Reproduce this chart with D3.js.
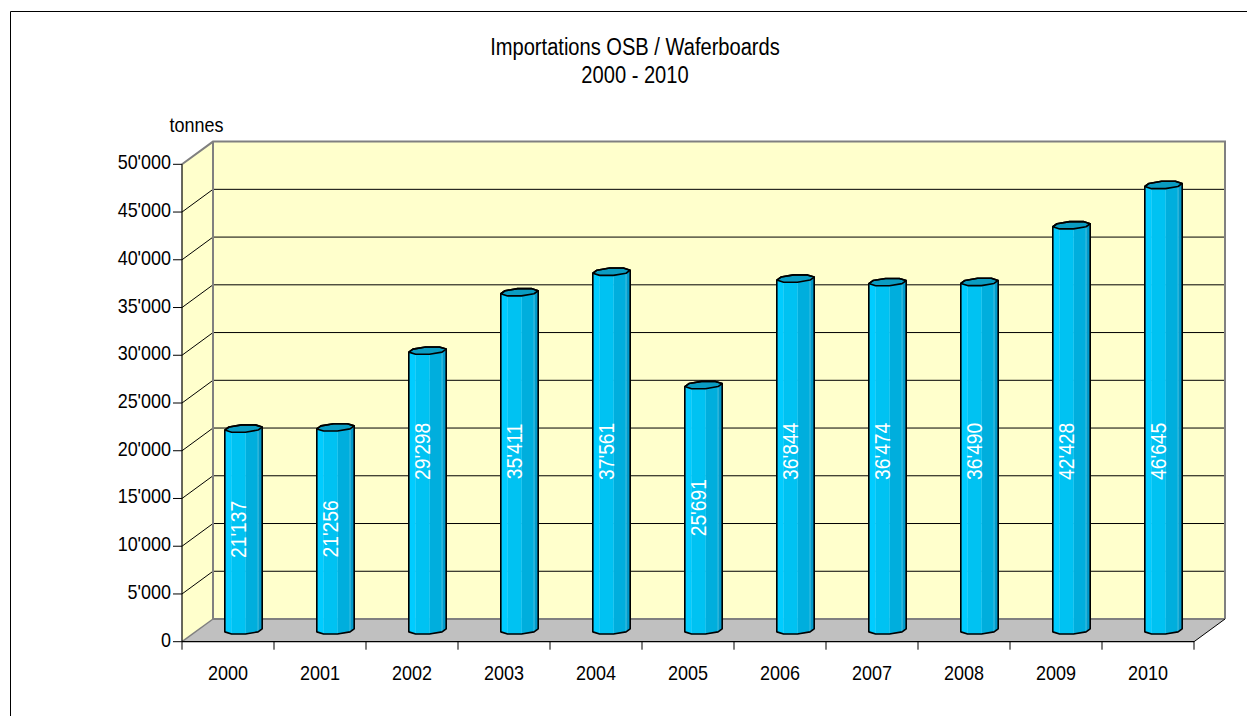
<!DOCTYPE html>
<html><head><meta charset="utf-8">
<script src="https://cdn.jsdelivr.net/npm/d3@7"></script>
<style>html,body{margin:0;padding:0;background:#fff;overflow:hidden}</style>
</head><body>
<svg id="c" width="1247" height="716"></svg>
<script>
const years = ["2000","2001","2002","2003","2004","2005","2006","2007","2008","2009","2010"];
const imports = [21137,21256,29298,35411,37561,25691,36844,36474,36490,42428,46645];
const yTicks = [0,5000,10000,15000,20000,25000,30000,35000,40000,45000,50000];
const titleLines = ["Importations OSB / Waferboards","2000 - 2010"];
const yUnit = "tonnes";

const svg = d3.select("#c");
const FONT = "Liberation Sans, Arial, sans-serif";
const NARROW = 0.855;
const fmt = d3.formatLocale({decimal:".",thousands:"'",grouping:[3],currency:["",""]}).format(",");

// frame
svg.append("path").attr("d","M10.5,716 V11.5 H1247").attr("fill","none").attr("stroke","#000").attr("stroke-width",1);

const x0 = 182, x1 = 1194;
const DX = 31, DY = -22.7;
const x = d3.scaleBand().domain(years).range([x0,x1]).padding(0);
const y = d3.scaleLinear().domain([0,50000]).range([641.7,164.3]);

function narrowText(sel){
  sel.each(function(){
    const len = this.getComputedTextLength();
    d3.select(this).attr("textLength", len*NARROW).attr("lengthAdjust","spacingAndGlyphs");
  });
}

// side wall
svg.append("path")
  .attr("d",`M${x0},${y(50000)} L${x0+DX},${y(50000)+DY} L${x0+DX},${y(0)+DY} L${x0},${y(0)} Z`)
  .attr("fill","#FFFFCC");
// back wall
svg.append("rect").attr("x",x0+DX).attr("y",y(50000)+DY).attr("width",x1-x0).attr("height",y(0)-y(50000))
  .attr("fill","#FFFFCC");
// floor
svg.append("path")
  .attr("d",`M${x0},${y(0)} L${x1},${y(0)} L${x1+DX},${y(0)+DY} L${x0+DX},${y(0)+DY} Z`)
  .attr("fill","#C0C0C0");

// gridlines
const grid = svg.append("g");
yTicks.filter(v=>v>0 && v<50000).forEach(v=>{
  grid.append("path")
    .attr("d",`M${x0},${y(v)} L${x0+DX},${y(v)+DY} L${x1+DX},${y(v)+DY}`)
    .attr("fill","none").attr("stroke","#000").attr("stroke-width",1);
});
// wall outlines (grey)
svg.append("path")
  .attr("d",`M${x0},${y(50000)} L${x0+DX},${y(50000)+DY} L${x1+DX},${y(50000)+DY} L${x1+DX},${y(0)+DY}`)
  .attr("fill","none").attr("stroke","#808080").attr("stroke-width",2);
svg.append("path")
  .attr("d",`M${x0+DX},${y(50000)+DY} L${x0+DX},${y(0)+DY} L${x1+DX},${y(0)+DY}`)
  .attr("fill","none").attr("stroke","#808080").attr("stroke-width",2);
svg.append("path")
  .attr("d",`M${x0},${y(0)} L${x0+DX},${y(0)+DY}`)
  .attr("fill","none").attr("stroke","#808080").attr("stroke-width",1.5);
svg.append("path")
  .attr("d",`M${x1},${y(0)} L${x1+DX},${y(0)+DY}`)
  .attr("fill","none").attr("stroke","#000").attr("stroke-width",1);

// axes
svg.append("line").attr("x1",x0).attr("x2",x0).attr("y1",y(50000)).attr("y2",y(0)).attr("stroke","#000").attr("stroke-width",1.2);
svg.append("line").attr("x1",x0).attr("x2",x1).attr("y1",y(0)).attr("y2",y(0)).attr("stroke","#000").attr("stroke-width",1.2);
const yAx = svg.append("g");
yTicks.forEach(v=>{
  yAx.append("line").attr("x1",x0-9).attr("x2",x0).attr("y1",y(v)).attr("y2",y(v)).attr("stroke","#000");
  yAx.append("text").attr("x",171).attr("y",y(v)+5).attr("text-anchor","end")
    .attr("font-family",FONT).attr("font-size",21).attr("fill","#000").text(fmt(v)).call(narrowText);
});
const xAx = svg.append("g");
years.concat(["_end"]).forEach((yr,i)=>{
  const xx = x0 + i*x.bandwidth();
  xAx.append("line").attr("x1",xx).attr("x2",xx).attr("y1",y(0)).attr("y2",y(0)+8).attr("stroke","#000");
});
years.forEach(yr=>{
  xAx.append("text").attr("x",x(yr)+x.bandwidth()/2).attr("y",680).attr("text-anchor","middle")
    .attr("font-family",FONT).attr("font-size",21).attr("fill","#000").text(yr).call(narrowText);
});

// title + unit
titleLines.forEach((t,i)=>{
  svg.append("text").attr("x",635).attr("y",55+i*28.3).attr("text-anchor","middle")
    .attr("font-family",FONT).attr("font-size",23.5).attr("fill","#000").text(t).call(narrowText);
});
svg.append("text").attr("x",196.5).attr("y",132).attr("text-anchor","middle")
  .attr("font-family",FONT).attr("font-size",21).attr("fill","#000").text(yUnit).call(narrowText);

// bars (octagonal prisms)
const R = 18, kx = 0.30, ky = 0.22;
const angles = d3.range(8).map(k=>Math.PI/8 + k*Math.PI/4);
const faceColor = {225:"#00CCFF",270:"#00C2F2",315:"#00AEDD",0:"#009ACB"};
const bars = svg.append("g");
years.forEach((yr,i)=>{
  const v = imports[i];
  const cx = x(yr) + x.bandwidth()/2 + DX/2;
  const yb = y(0) + DY/2;
  const yt = y(v) + DY/2;
  const P = (th, yy)=>[cx + R*Math.cos(th) + kx*R*Math.sin(th), yy - ky*R*Math.sin(th)];
  const g = bars.append("g");
  // side faces
  for(let k=0;k<8;k++){
    const a = angles[k], b = angles[(k+1)%8];
    let nDeg = Math.round(((a+b)/2)*180/Math.PI) % 360;
    if(k===7) nDeg = 0;
    const nrad = nDeg*Math.PI/180;
    if(!(kx*Math.cos(nrad) - Math.sin(nrad) > 0)) continue;
    const pts = [P(a,yb),P(b,yb),P(b,yt),P(a,yt)];
    g.append("path").attr("d","M"+pts.join("L")+"Z")
      .attr("fill",faceColor[nDeg]||"#00B8EA").attr("stroke",faceColor[nDeg]||"#00B8EA").attr("stroke-width",0.5);
  }
  // light separating lines
  [angles[5],angles[6],angles[7]].forEach((a,j)=>{
    const p1=P(a,yb), p2=P(a,yt);
    g.append("line").attr("x1",p1[0]).attr("y1",p1[1]).attr("x2",p2[0]).attr("y2",p2[1])
      .attr("stroke", j===2?"#7FE0F5":"#33D6FF").attr("stroke-width",0.7).attr("opacity",0.8);
  });
  // top
  const top = angles.map(a=>P(a,yt));
  g.append("path").attr("d","M"+top.join("L")+"Z").attr("fill","#0A9CC2")
    .attr("stroke","#000").attr("stroke-width",1.6).attr("stroke-linejoin","round");
  // silhouette
  const hull = d3.polygonHull(angles.map(a=>P(a,yb)).concat(top));
  g.append("path").attr("d","M"+hull.join("L")+"Z").attr("fill","none")
    .attr("stroke","#000").attr("stroke-width",1.6).attr("stroke-linejoin","round");
  // label
  const mid = (yb+yt)/2;
  const ly = mid >= 500 ? mid : y(18750)+DY/2;
  g.append("text").attr("transform",`translate(${cx-5},${ly}) rotate(-90)`)
    .attr("text-anchor","middle").attr("dominant-baseline","central")
    .attr("font-family",FONT).attr("font-size",22.5).attr("fill","#fff").text(fmt(v)).call(narrowText);
});
</script>
</body></html>
